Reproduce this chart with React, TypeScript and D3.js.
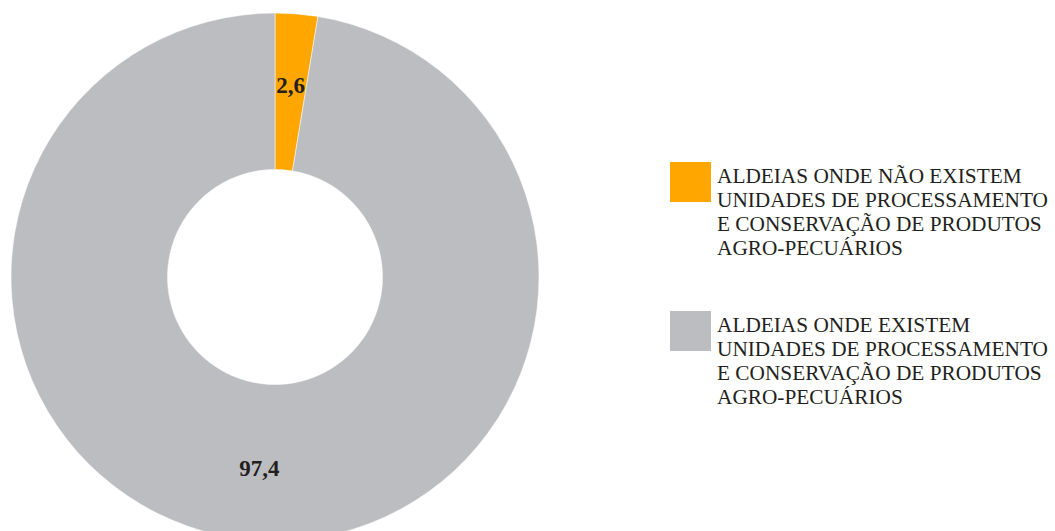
import React from 'react'
import * as d3 from 'd3'

const categories = [
  'ALDEIAS ONDE NÃO EXISTEM UNIDADES DE PROCESSAMENTO E CONSERVAÇÃO DE PRODUTOS AGRO-PECUÁRIOS',
  'ALDEIAS ONDE EXISTEM UNIDADES DE PROCESSAMENTO E CONSERVAÇÃO DE PRODUTOS AGRO-PECUÁRIOS',
]
const legendLines = [
  ['ALDEIAS ONDE NÃO EXISTEM', 'UNIDADES DE PROCESSAMENTO', 'E CONSERVAÇÃO DE PRODUTOS', 'AGRO-PECUÁRIOS'],
  ['ALDEIAS ONDE EXISTEM', 'UNIDADES DE PROCESSAMENTO', 'E CONSERVAÇÃO DE PRODUTOS', 'AGRO-PECUÁRIOS'],
]
const values = [2.6, 97.4]
const labels = ['2,6', '97,4']
const colors = ['#FFA600', '#BCBDC1']

export default function App() {
  const width = 1055
  const height = 531
  const cx = 275
  const cy = 277
  const outerR = 264
  const innerR = 107.5

  const pie = d3.pie<number>().sort(null).value(d => d)
  const arcs = pie(values)
  const arc = d3.arc<d3.PieArcDatum<number>>().innerRadius(innerR).outerRadius(outerR)
  const labelArc = d3.arc<d3.PieArcDatum<number>>().innerRadius(192).outerRadius(192)

  const legendY = d3.scaleOrdinal<string, number>().domain(categories).range([162, 311])

  return (
    <svg width={width} height={height} style={{position: 'absolute', left: 0, top: 0}}
      fontFamily="'Times New Roman', Times, serif">
      <rect width={width} height={height} fill="#fff" />
      <g transform={`translate(${cx},${cy})`}>
        {arcs.map((a, i) => (
          <path key={i} d={arc(a) || ''} fill={colors[i]} stroke="#fff" strokeWidth={0.5} />
        ))}
        {arcs.map((a, i) => {
          const [x, y] = labelArc.centroid(a)
          return (
            <text key={i} x={x} y={y} textAnchor="middle" dominantBaseline="central"
              fontWeight="bold" fontSize={23} fill="#231F20">{labels[i]}</text>
          )
        })}
      </g>
      {categories.map((c, i) => {
        const y0 = legendY(c)
        return (
          <g key={c}>
            <rect x={670} y={y0} width={41} height={40} fill={colors[i]} />
            {legendLines[i].map((line, j) => (
              <text key={j} x={717} y={y0 + 20.5 + j * 24.3} fontSize={21.3} fill="#231F20">{line}</text>
            ))}
          </g>
        )
      })}
    </svg>
  )
}
